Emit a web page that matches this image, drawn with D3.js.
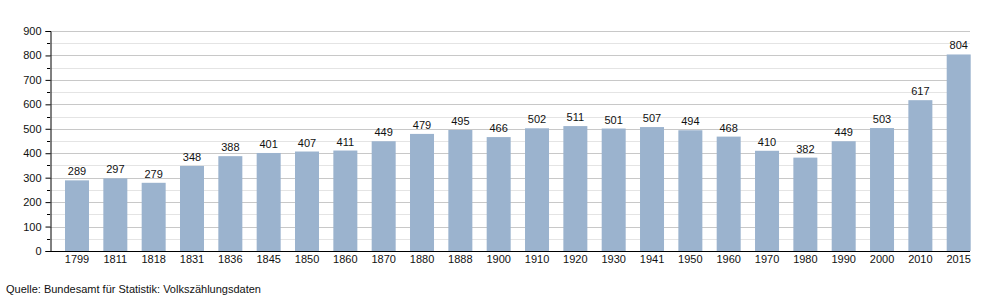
<!DOCTYPE html>
<html>
<head>
<meta charset="utf-8">
<script src="https://cdn.jsdelivr.net/npm/d3@7"></script>
<style>
	body { margin: 0; background: #fff; }
	text { font-family: "Liberation Sans", Arial, sans-serif; }
</style>
</head>
<body>
<script>
// data
var years = ["1799", "1811", "1818", "1831", "1836", "1845", "1850", "1860", "1870", "1880", "1888", "1900",
	"1910", "1920", "1930", "1941", "1950", "1960", "1970", "1980", "1990", "2000", "2010", "2015"];
var population = [289, 297, 279, 348, 388, 401, 407, 411, 449, 479, 495, 466,
	502, 511, 501, 507, 494, 468, 410, 382, 449, 503, 617, 804];
var yTicks = [0, 100, 200, 300, 400, 500, 600, 700, 800, 900];
var yMinor = [50, 150, 250, 350, 450, 550, 650, 750, 850];
var source = "Quelle: Bundesamt für Statistik: Volkszählungsdaten";

function makeGraph() {
	var w = 1000, h = 300;
	var axisX = 50, plotRight = 970;
	var plotTop = 31, plotBottom = 251;

	var svg = d3.select("body").append("svg")
		.attr("width", w)
		.attr("height", h);

	var yScale = d3.scaleLinear()
		.domain([0, 900])
		.range([plotBottom, plotTop]);

	var xScale = d3.scaleBand()
		.domain(years)
		.range([65, 970.7])
		.paddingInner(0.374)
		.paddingOuter(0);

	var py = function(d) { return Math.round(yScale(d)) + 0.5; };

	// grid lines
	svg.append("g").selectAll("line")
		.data(yMinor)
		.enter().append("line")
		.attr("x1", axisX).attr("x2", plotRight)
		.attr("y1", py).attr("y2", py)
		.attr("stroke", "#e4e4e4");

	svg.append("g").selectAll("line")
		.data(yTicks.slice(1))
		.enter().append("line")
		.attr("x1", axisX).attr("x2", plotRight)
		.attr("y1", py).attr("y2", py)
		.attr("stroke", "#c8c8c8");

	// bars
	svg.append("g").selectAll("rect")
		.data(population)
		.enter().append("rect")
		.attr("x", function(d, i) { return xScale(years[i]); })
		.attr("y", function(d) { return yScale(d); })
		.attr("width", xScale.bandwidth())
		.attr("height", function(d) { return plotBottom - yScale(d); })
		.attr("fill", "#9bb3ce");

	// value labels
	svg.append("g").selectAll("text")
		.data(population)
		.enter().append("text")
		.attr("x", function(d, i) { return xScale(years[i]) + xScale.bandwidth() / 2; })
		.attr("y", function(d) { return yScale(d) - 5; })
		.attr("text-anchor", "middle")
		.attr("font-size", 11)
		.attr("fill", "#111")
		.text(function(d) { return d; });

	// y axis
	var yAxis = d3.axisLeft(yScale)
		.tickValues(yTicks)
		.tickSize(5)
		.tickPadding(4);

	var gy = svg.append("g")
		.attr("transform", "translate(" + (axisX + 0.5) + ",0)")
		.call(yAxis);
	gy.select(".domain").attr("stroke", "#000");
	gy.selectAll(".tick line").attr("stroke", "#000");
	gy.selectAll("text").attr("font-size", 11).attr("fill", "#111")
		.attr("font-family", "Liberation Sans, Arial, sans-serif");

	svg.append("g").selectAll("line")
		.data(yMinor)
		.enter().append("line")
		.attr("x1", axisX - 3).attr("x2", axisX)
		.attr("y1", py).attr("y2", py)
		.attr("stroke", "#000");

	// x axis
	var xAxis = d3.axisBottom(xScale)
		.tickSize(0)
		.tickPadding(4);

	var gx = svg.append("g")
		.attr("transform", "translate(0," + (plotBottom + 0.5) + ")")
		.call(xAxis);
	gx.select(".domain").attr("d", "M" + axisX + ",0H" + plotRight).attr("stroke", "#000");
	gx.selectAll("text").attr("font-size", 11).attr("fill", "#111")
		.attr("font-family", "Liberation Sans, Arial, sans-serif");

	// source
	svg.append("text")
		.attr("x", 6)
		.attr("y", 293)
		.attr("font-size", 11)
		.attr("fill", "#111")
		.text(source);
}

makeGraph();
</script>
</body>
</html>
